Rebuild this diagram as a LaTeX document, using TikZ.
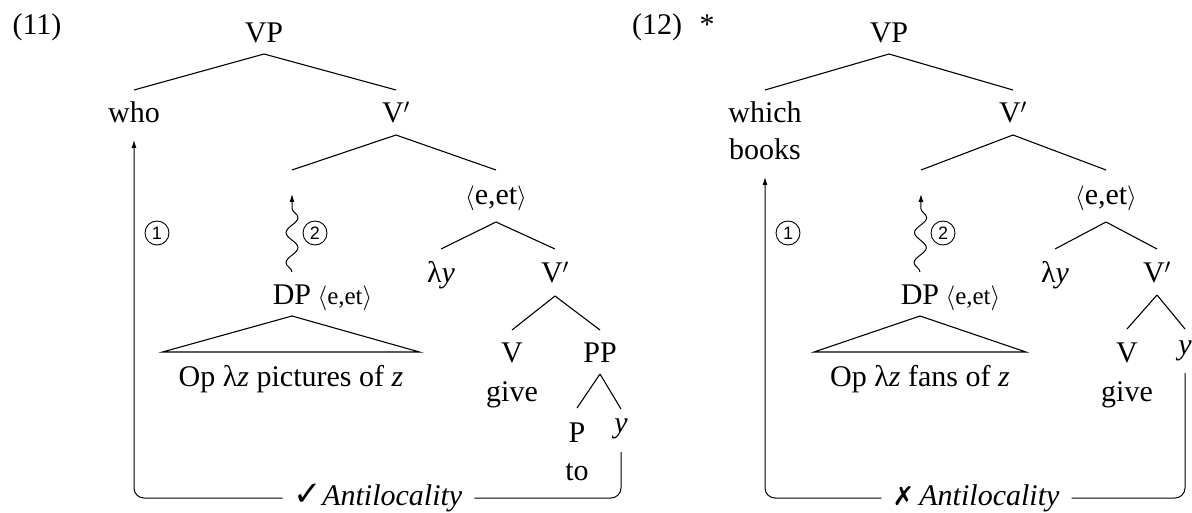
\documentclass[tikz,border=0pt]{standalone}
\usepackage{fontspec}
\setmainfont{Liberation Serif}
\newfontfamily\dejavu{DejaVu Sans}
\newfontfamily\lsans{Liberation Sans}
\usetikzlibrary{arrows.meta,decorations.pathmorphing}
\begin{document}
\begin{tikzpicture}[x=1pt,y=-1pt,
  lbl/.style={font=\fontsize{30}{36}\selectfont, inner sep=0pt, anchor=base},
  small/.style={font=\fontsize{25}{30}\selectfont, inner sep=0pt, anchor=base west},
  roof/.style={font=\fontsize{30}{36}\selectfont, inner xsep=16pt, inner ysep=0pt, anchor=base},
  circ/.style={font=\lsans\fontsize{18}{20}\selectfont, circle, draw, line width=0.9pt,
    minimum size=24pt, inner sep=0pt},
  branch/.style={line width=1.1pt},
  mv/.style={line width=1pt, -{Latex[length=8pt,width=5pt]}},
  wavy/.style={line width=1pt, -{Latex[length=8pt,width=5pt]}, decorate,
    decoration={snake, amplitude=6pt, segment length=30pt, post length=9pt}},
]
\useasboundingbox (0,0) rectangle (1192,513);

% ---------------- (11) ----------------
\node[lbl] (ex11) at (37,35) {(11)};
\node[lbl] (vp11) at (264,43) {VP};
\node[lbl] (who) at (134,123) {who};
\node[lbl] (vbar11) at (396,123) {V$'$};
\coordinate (gap11) at (292,170);
\node[lbl] (eet11) at (496,205) {$\langle$e,et$\rangle$};
\node[lbl] (lam11) at (441,283) {λ\textit{y}};
\node[lbl] (vbarb11) at (555,283) {V$'$};
\node[lbl] (v11) at (512,362) {V};
\node[lbl] (give11) at (512,401) {give};
\node[lbl] (pp11) at (600,362) {PP};
\node[lbl] (p11) at (577,442) {P};
\node[lbl] (to11) at (577,480) {to};
\node[lbl] (y11) at (621,432) {\textit{y}};
\node[lbl] (dp11) at (292,305) {DP};
\node[small] (dpt11) at ([xshift=6pt]dp11.base east) {$\langle$e,et$\rangle$};
\node[roof] (op11) at (291,386) {Op λ\textit{z} pictures of \textit{z}};
\node[circ] (c1a) at (157,233) {1};
\node[circ] (c2a) at (315,233) {2};
\node[lbl] (anti11) at (378,505) {{\dejavu\fontsize{34}{40}\selectfont ✓}\textit{Antilocality}};

\draw[branch] ([yshift=-11pt]vp11.base) -- ([yshift=33pt]who.base);
\draw[branch] ([yshift=-11pt]vp11.base) -- ([yshift=33pt]vbar11.base);
\draw[branch] ([yshift=-12pt]vbar11.base) -- (gap11);
\draw[branch] ([yshift=-12pt]vbar11.base) -- ([yshift=35pt]eet11.base);
\draw[branch] ([yshift=-17pt]eet11.base) -- ([yshift=34pt]lam11.base);
\draw[branch] ([yshift=-17pt]eet11.base) -- ([yshift=34pt]vbarb11.base);
\draw[branch] ([yshift=-13pt]vbarb11.base) -- ([yshift=32pt]v11.base);
\draw[branch] ([yshift=-13pt]vbarb11.base) -- ([yshift=32pt]pp11.base);
\draw[branch] ([yshift=-12pt]pp11.base) -- ([yshift=34pt]p11.base);
\draw[branch] ([yshift=-12pt]pp11.base) -- ([yshift=23pt]y11.base);
\draw[branch] ([yshift=-11pt]dp11.base) -- ([yshift=34pt]op11.base west)
   -- ([yshift=34pt]op11.base east) -- cycle;
\draw[wavy] ([yshift=33pt]dp11.base) -- ([yshift=-24pt]gap11);
\draw[mv, rounded corners=10pt] ([xshift=-11pt,yshift=7pt]anti11.base west) -| ([yshift=-17pt]who.base);
\draw[mv, -, rounded corners=10pt] ([yshift=-20pt]y11.base) |- ([xshift=12pt,yshift=7pt]anti11.base east);

% ---------------- (12) ----------------
\node[lbl] (ex12) at (657,35) {(12)};
\node[lbl] (star12) at (707,35) {*};
\node[lbl] (vp12) at (889,43) {VP};
\node[lbl] (which) at (765,123) {which};
\node[lbl] (books) at (765,160) {books};
\node[lbl] (vbar12) at (1013,123) {V$'$};
\coordinate (gap12) at (921,170);
\node[lbl] (eet12) at (1106,205) {$\langle$e,et$\rangle$};
\node[lbl] (lam12) at (1055,283) {λ\textit{y}};
\node[lbl] (vbarb12) at (1157,283) {V$'$};
\node[lbl] (v12) at (1127,362) {V};
\node[lbl] (give12) at (1127,401) {give};
\node[lbl] (y12) at (1185,354) {\textit{y}};
\node[lbl] (dp12) at (920,305) {DP};
\node[small] (dpt12) at ([xshift=6pt]dp12.base east) {$\langle$e,et$\rangle$};
\node[roof] (op12) at (920,386) {Op λ\textit{z} fans of \textit{z}};
\node[circ] (c1b) at (788,233) {1};
\node[circ] (c2b) at (943,233) {2};
\node[lbl] (anti12) at (976,505) {{\dejavu\fontsize{26}{30}\selectfont ✗}\,\textit{Antilocality}};

\draw[branch] ([yshift=-11pt]vp12.base) -- ([yshift=33pt]which.base);
\draw[branch] ([yshift=-11pt]vp12.base) -- ([yshift=33pt]vbar12.base);
\draw[branch] ([yshift=-12pt]vbar12.base) -- (gap12);
\draw[branch] ([yshift=-12pt]vbar12.base) -- ([yshift=35pt]eet12.base);
\draw[branch] ([yshift=-17pt]eet12.base) -- ([yshift=34pt]lam12.base);
\draw[branch] ([yshift=-17pt]eet12.base) -- ([yshift=34pt]vbarb12.base);
\draw[branch] ([yshift=-12pt]vbarb12.base) -- ([yshift=33pt]v12.base);
\draw[branch] ([yshift=-12pt]vbarb12.base) -- ([yshift=25pt]y12.base);
\draw[branch] ([yshift=-11pt]dp12.base) -- ([yshift=34pt]op12.base west)
   -- ([yshift=34pt]op12.base east) -- cycle;
\draw[wavy] ([yshift=33pt]dp12.base) -- ([yshift=-24pt]gap12);
\draw[mv, rounded corners=10pt] ([xshift=-11pt,yshift=7pt]anti12.base west) -| ([yshift=-17pt]books.base);
\draw[mv, -, rounded corners=10pt] ([yshift=-19pt]y12.base) |- ([xshift=12pt,yshift=7pt]anti12.base east);
\end{tikzpicture}
\end{document}
